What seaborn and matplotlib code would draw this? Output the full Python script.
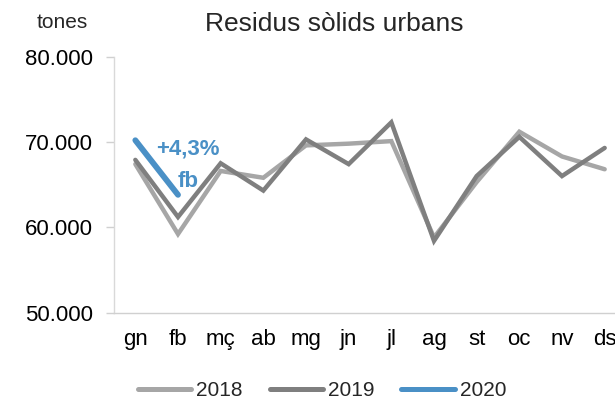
import matplotlib
matplotlib.use("Agg")
import matplotlib.pyplot as plt
import seaborn as sns
import pandas as pd
import numpy as np
from matplotlib.ticker import FuncFormatter, FixedLocator
from matplotlib.lines import Line2D

months = ["gn", "fb", "mç", "ab", "mg", "jn", "jl", "ag", "st", "oc", "nv", "ds"]
v2018 = [67400, 59200, 66600, 65800, 69600, 69800, 70100, 58800, 65300, 71200, 68300, 66800]
v2019 = [67900, 61200, 67500, 64300, 70300, 67400, 72300, 58400, 66000, 70600, 66000, 69300]
v2020 = [70200, 63800]
series = ["2018", "2019", "2020"]
colors = ["#a6a6a6", "#7f7f7f", "#4a90c6"]

rows = []
for s, vals in zip(series, [v2018, v2019, v2020]):
    for i, v in enumerate(vals):
        rows.append({"mes": i, "tones": v, "any": s})
df = pd.DataFrame(rows)

sns.set_theme(style="white")
plt.rcParams["font.family"] = ["Liberation Sans", "DejaVu Sans"]

fig = plt.figure(figsize=(6.15, 4.01), dpi=100)
ax = fig.add_axes([114/615, 1-312.5/401, (626-114)/615, (312.5-56.7)/401])

sns.lineplot(data=df, x="mes", y="tones", hue="any", palette=colors, ax=ax,
             linewidth=3.2, legend=False)
for line, lw in zip(ax.get_lines(), [3.2, 3.2, 4.2]):
    line.set_linewidth(lw)
    line.set_solid_capstyle("round")
    line.set_solid_joinstyle("miter")

ax.set_xlim(-0.5, 11.5)
ax.set_ylim(50000, 80000)
ax.set_yticks([50000, 60000, 70000, 80000])
ax.yaxis.set_major_formatter(FuncFormatter(lambda v, p: f"{int(v):,}".replace(",", ".")))
ax.set_xticks(range(12))
ax.set_xticklabels(months)
ax.xaxis.set_minor_locator(FixedLocator(np.arange(-0.5, 12, 1)))
ax.tick_params(axis="x", which="major", length=0, labelsize=16, pad=12, colors="#000000")
ax.tick_params(axis="x", which="minor", length=4, width=1, color="#d0d0d0", direction="out")
ax.tick_params(axis="y", which="major", length=6, width=1, color="#d0d0d0", labelsize=16,
               pad=9, direction="out", left=True, labelcolor="#000000")
ax.set_xlabel("")
ax.set_ylabel("")
for s in ["top", "right"]:
    ax.spines[s].set_visible(False)
ax.spines["left"].set_color("#d9d9d9")
ax.spines["bottom"].set_color("#d0d0d0")
ax.spines["left"].set_linewidth(1)
ax.spines["bottom"].set_linewidth(1)

fig.text(334/615, 1-24/401, "Residus sòlids urbans", ha="center", va="center", fontsize=19)
fig.text(62/615, 1-23/401, "tones", ha="center", va="center", fontsize=15)

ax.text(1.24, 69150, "+4,3%", color=colors[2], fontsize=16, fontweight="bold",
        ha="center", va="center")
ax.text(1.24, 65400, "fb", color=colors[2], fontsize=16, fontweight="bold",
        ha="center", va="center")

handles = [Line2D([0], [0], color=c, lw=3.6) for c in colors]
fig.legend(handles, series, loc="center", bbox_to_anchor=(322/615, 1-391/401), ncol=3,
           frameon=False, fontsize=15, handlelength=2.55, handletextpad=0.24,
           columnspacing=1.3, borderpad=0, borderaxespad=0)

fig.savefig("out.png", dpi=100)
